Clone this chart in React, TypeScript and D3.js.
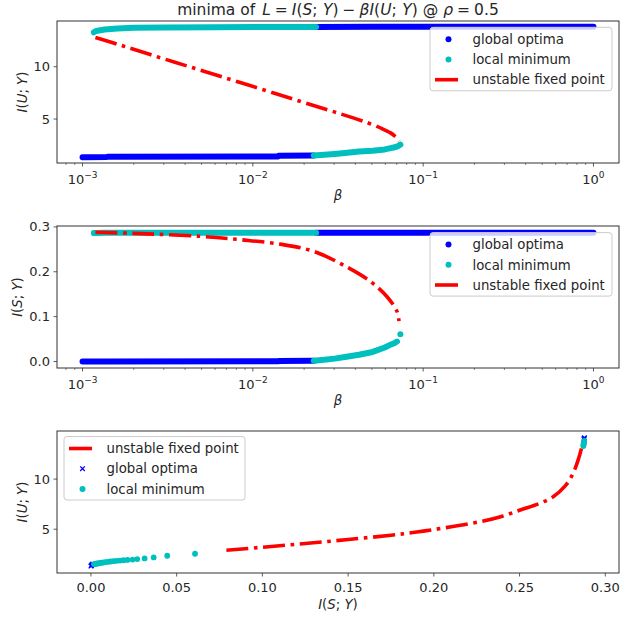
import * as d3 from 'd3';

const FONT = '"DejaVu Sans", sans-serif';
const BLUE = '#0000ff';
const CYAN = '#00bfbf';
const RED = '#ff0000';
const INK = '#262626';

// ---- panel 1 & 2 : beta sweep ----
const upperLocalBeta = [0.001165, 0.0012, 0.00135, 0.0016, 0.002, 0.003, 0.006, 0.012, 0.0235];
const upperLocalIU = [13.29, 13.42, 13.55, 13.65, 13.72, 13.76, 13.78, 13.79, 13.8];
const upperLocalIS = [0.2862, 0.2865, 0.2867, 0.2868, 0.2869, 0.287, 0.287, 0.287, 0.287];

const upperGlobalBeta = [0.0235, 0.05, 0.1, 0.3, 1.0];
const upperGlobalIU = [13.8, 13.81, 13.82, 13.82, 13.82];
const upperGlobalIS = [0.2872, 0.2872, 0.2872, 0.2872, 0.2872];

const lowerGlobalBeta = [0.001, 0.00139, 0.0014, 0.0141, 0.0142, 0.0228];
const lowerGlobalIU = [1.35, 1.37, 1.4, 1.42, 1.5, 1.52];
const lowerGlobalIS = [0.0, 0.0, 0.0, 0.0004, 0.0012, 0.0016];

const lowerLocalBeta = [0.0228, 0.0262, 0.0302, 0.0347, 0.042, 0.0505, 0.0595, 0.0635, 0.067, 0.0702];
const lowerLocalIU = [1.52, 1.58, 1.66, 1.75, 1.9, 1.98, 2.1, 2.2, 2.28, 2.37];
const lowerLocalIS = [0.0018, 0.0037, 0.0064, 0.01, 0.015, 0.0213, 0.0313, 0.0366, 0.04, 0.0445];
const tipBeta = [0.0735];
const tipIU = [2.55];
const tipIS = [0.0607];

// unstable fixed point, read separately per panel
const unstableBetaU = [0.00119, 0.0017, 0.0025, 0.004, 0.0065, 0.011, 0.018, 0.028, 0.038, 0.048, 0.057, 0.064, 0.0685, 0.0712, 0.0722];
const unstableIU = [12.8, 12.02, 11.16, 10.13, 9.06, 7.9, 6.81, 5.84, 5.16, 4.6, 4.1, 3.7, 3.35, 3.1, 2.9];
const unstableBetaS = [0.00119, 0.002, 0.00492, 0.00845, 0.0148, 0.0229, 0.0355, 0.0492, 0.0612, 0.0702, 0.0721];
const unstableIS = [0.288, 0.2855, 0.279, 0.2715, 0.261, 0.245, 0.211, 0.178, 0.1448, 0.1117, 0.09];

// ---- panel 3 : I(S;Y) vs I(U;Y) ----
const p3UnstableIS = [0.079, 0.1, 0.125, 0.15, 0.175, 0.19, 0.205, 0.227, 0.24, 0.2504, 0.262, 0.27, 0.2765, 0.2798, 0.2825, 0.2847, 0.2866, 0.2876];
const p3UnstableIU = [2.9, 3.2, 3.57, 3.97, 4.4, 4.72, 5.1, 5.75, 6.3, 6.92, 7.6, 8.28, 9.3, 10.1, 11.1, 12.2, 13.3, 13.6];
const p3GlobalIS = [0.0, 0.0003, 0.0006, 0.001, 0.2876, 0.2877, 0.2878];
const p3GlobalIU = [1.32, 1.38, 1.45, 1.52, 13.95, 14.05, 14.12];
const p3LocalIS = [0.0607, 0.0445, 0.0366, 0.0313, 0.027, 0.0243, 0.0213, 0.019, 0.017, 0.015, 0.0132, 0.0115, 0.01, 0.0087, 0.0075, 0.0064, 0.0054, 0.0045, 0.0037, 0.003, 0.0024, 0.0018,
  0.2872, 0.2873, 0.2874, 0.2875, 0.2876, 0.2877];
const p3LocalIU = [2.55, 2.35, 2.18, 2.08, 2.02, 1.97, 1.93, 1.9, 1.87, 1.84, 1.81, 1.78, 1.75, 1.72, 1.69, 1.66, 1.63, 1.6, 1.58, 1.56, 1.54, 1.52,
  13.3, 13.42, 13.52, 13.62, 13.72, 13.82];

const betaTicks = [-3, -2, -1, 0];
const iuTicks = [5, 10];
const isTicks = [0.0, 0.1, 0.2, 0.3];
const isTicks3 = [0.0, 0.05, 0.1, 0.15, 0.2, 0.25, 0.3];

const legendTop = ['global optima', 'local minimum', 'unstable fixed point'];
const legendBottom = ['unstable fixed point', 'global optima', 'local minimum'];

const L = 57, R = 619;
const zip = (a: number[], b: number[]) => a.map((v, i) => [v, b[i]] as [number, number]);
const DASH = '22,5.6,3.6,5.6';

function MathLabel({ parts, ...rest }: any) {
  return (
    <text {...rest}>
      {parts.map((p: any, i: number) => (
        <tspan key={i} fontStyle={p[1] ? 'italic' : 'normal'} dx={p[2] || 0}>{p[0]}</tspan>
      ))}
    </text>
  );
}

const IUY = [['I', 1], ['(', 0], ['U', 1], ['; ', 0], ['Y', 1], [')', 0]];
const ISY = [['I', 1], ['(', 0], ['S', 1], ['; ', 0], ['Y', 1], [')', 0]];

function Frame({ x, y, top, bottom, xTicks, yTicks, xLog, xFmt, yFmt }: any) {
  const minor: number[] = [];
  if (xLog) {
    const [d0, d1] = x.domain();
    for (let e = -4; e <= 1; e++) for (let k = 2; k <= 9; k++) {
      const v = k * Math.pow(10, e);
      if (v >= d0 && v <= d1) minor.push(v);
    }
  }
  return (
    <g>
      <rect x={L} y={top} width={R - L} height={bottom - top} fill="none" stroke="#333" strokeWidth={1} />
      {minor.map((v, i) => (
        <line key={'m' + i} x1={x(v)} x2={x(v)} y1={bottom} y2={bottom + 2} stroke="#333" strokeWidth={0.6} />
      ))}
      {xTicks.map((t: number, i: number) => {
        const px = xLog ? x(Math.pow(10, t)) : x(t);
        return (
          <g key={'x' + i}>
            <line x1={px} x2={px} y1={bottom} y2={bottom + 3.5} stroke="#333" strokeWidth={0.8} />
            {xLog ? (
              <text x={px} y={bottom + 20.5} textAnchor="middle" fontSize={13} fill={INK}>
                <tspan>10</tspan>
                <tspan dy={-6} fontSize={9}>{t < 0 ? '\u2212' + Math.abs(t) : String(t)}</tspan>
              </text>
            ) : (
              <text x={px} y={bottom + 18.5} textAnchor="middle" fontSize={13} fill={INK}>{xFmt(t)}</text>
            )}
          </g>
        );
      })}
      {yTicks.map((t: number, i: number) => (
        <g key={'y' + i}>
          <line x1={L - 3.5} x2={L} y1={y(t)} y2={y(t)} stroke="#333" strokeWidth={0.8} />
          <text x={L - 7} y={y(t) + 4.6} textAnchor="end" fontSize={13} fill={INK}>{yFmt(t)}</text>
        </g>
      ))}
    </g>
  );
}

function Band({ pts, color }: any) {
  const line = d3.line();
  return pts.length > 1 ? (
    <path d={line(pts) || ''} fill="none" stroke={color} strokeWidth={6} strokeLinecap="round" strokeLinejoin="round" />
  ) : (
    <circle cx={pts[0][0]} cy={pts[0][1]} r={3} fill={color} />
  );
}

function Dashed({ pts }: any) {
  const line = d3.line().curve(d3.curveCatmullRom.alpha(0.5));
  return <path d={line(pts) || ''} fill="none" stroke={RED} strokeWidth={3.6} strokeDasharray={DASH} />;
}

function XMark({ cx, cy }: any) {
  return <path d={`M${cx - 2.3},${cy - 2.3}L${cx + 2.3},${cy + 2.3}M${cx - 2.3},${cy + 2.3}L${cx + 2.3},${cy - 2.3}`} stroke={BLUE} strokeWidth={1.3} />;
}

function Legend({ x0, y0, w, labels, kinds }: any) {
  return (
    <g>
      <rect x={x0} y={y0} width={w} height={63.5} rx={3} fill="white" fillOpacity={0.8} stroke="#cccccc" strokeWidth={1} />
      {labels.map((lab: string, i: number) => {
        const cy = y0 + 12 + i * 20.2;
        const k = kinds[i];
        return (
          <g key={i}>
            {k === 'line' && <line x1={x0 + 5} x2={x0 + 28} y1={cy} y2={cy} stroke={RED} strokeWidth={3.6} />}
            {k === 'blue' && <circle cx={x0 + 18.5} cy={cy} r={3} fill={BLUE} />}
            {k === 'cyan' && <circle cx={x0 + 18.5} cy={cy} r={3} fill={CYAN} />}
            {k === 'x' && <XMark cx={x0 + 18.5} cy={cy} />}
            <text x={x0 + 42.5} y={cy + 4.7} fontSize={13.3} fill={INK}>{lab}</text>
          </g>
        );
      })}
    </g>
  );
}

export default function App() {
  const xb = d3.scaleLog().domain([Math.pow(10, -3.15), Math.pow(10, 0.15)]).range([L, R]);
  const y1 = d3.scaleLinear().domain([0.8, 14.37]).range([163, 21]);
  const y2 = d3.scaleLinear().domain([-0.0145, 0.302]).range([368, 226]);
  const x3 = d3.scaleLinear().domain([-0.0198, 0.308]).range([L, R]);
  const y3 = d3.scaleLinear().domain([0.63, 14.8]).range([573, 431]);

  const P = (bx: number[], by: number[], sx: any, sy: any) => zip(bx, by).map(([a, b]) => [sx(a), sy(b)] as [number, number]);

  return (
    <svg width={630} height={620} viewBox="0 0 630 620" fontFamily={FONT} style={{ position: 'absolute', left: 0, top: 0 }}>
      <rect width={630} height={620} fill="white" />
      <MathLabel x={338} y={14.5} textAnchor="middle" fontSize={15.5} fill={INK}
        parts={[['minima of', 0], ['L', 1, 7], ['=', 0, 4], ['I', 1, 4], ['(', 0], ['S', 1], [';', 0], ['Y', 1, 5.5], [')', 0], ['\u2212', 0, 4], ['\u03b2I', 1, 4], ['(', 0], ['U', 1], [';', 0], ['Y', 1, 5.5], [')', 0], ['@', 0, 5], ['\u03c1', 1, 5], ['=', 0, 4], ['0.5', 0, 4]]} />

      {/* panel 1 */}
      <Frame x={xb} y={y1} top={21} bottom={163} xTicks={betaTicks} yTicks={iuTicks} xLog yFmt={(t: number) => String(t)} />
      <Band pts={P(lowerGlobalBeta, lowerGlobalIU, xb, y1)} color={BLUE} />
      <Band pts={P(upperGlobalBeta, upperGlobalIU, xb, y1)} color={BLUE} />
      <Band pts={P(lowerLocalBeta.concat(tipBeta), lowerLocalIU.concat(tipIU), xb, y1)} color={CYAN} />
      <Band pts={P(upperLocalBeta, upperLocalIU, xb, y1)} color={CYAN} />
      <Dashed pts={P(unstableBetaU, unstableIU, xb, y1)} />
      <Legend x0={430} y0={27.3} w={182} labels={legendTop} kinds={['blue', 'cyan', 'line']} />
      <MathLabel x={338} y={200} textAnchor="middle" fontSize={13.3} fill={INK} parts={[['\u03b2', 1]]} />
      <MathLabel transform="translate(27,92) rotate(-90)" textAnchor="middle" fontSize={13.3} fill={INK} parts={IUY} />

      {/* panel 2 */}
      <Frame x={xb} y={y2} top={226} bottom={368} xTicks={betaTicks} yTicks={isTicks} xLog yFmt={(t: number) => t.toFixed(1)} />
      <Band pts={P(lowerGlobalBeta, lowerGlobalIS, xb, y2)} color={BLUE} />
      <Band pts={P(upperGlobalBeta, upperGlobalIS, xb, y2)} color={BLUE} />
      <Band pts={P(lowerLocalBeta, lowerLocalIS, xb, y2)} color={CYAN} />
      <Band pts={P(tipBeta, tipIS, xb, y2)} color={CYAN} />
      <Band pts={P(upperLocalBeta, upperLocalIS, xb, y2)} color={CYAN} />
      <Dashed pts={P(unstableBetaS, unstableIS, xb, y2)} />
      <Legend x0={430} y0={232.6} w={182} labels={legendTop} kinds={['blue', 'cyan', 'line']} />
      <MathLabel x={338} y={405} textAnchor="middle" fontSize={13.3} fill={INK} parts={[['\u03b2', 1]]} />
      <MathLabel transform="translate(21.5,297) rotate(-90)" textAnchor="middle" fontSize={13.3} fill={INK} parts={ISY} />

      {/* panel 3 */}
      <Frame x={x3} y={y3} top={431} bottom={573} xTicks={isTicks3} yTicks={iuTicks} xFmt={(t: number) => t.toFixed(2)} yFmt={(t: number) => String(t)} />
      <Dashed pts={P(p3UnstableIS, p3UnstableIU, x3, y3)} />
      {P(p3GlobalIS, p3GlobalIU, x3, y3).map(([cx, cy], i) => <XMark key={i} cx={cx} cy={cy} />)}
      {P(p3LocalIS, p3LocalIU, x3, y3).map(([cx, cy], i) => <circle key={i} cx={cx} cy={cy} r={2.9} fill={CYAN} />)}
      <Legend x0={64} y0={436.5} w={181} labels={legendBottom} kinds={['line', 'x', 'cyan']} />
      <MathLabel x={338} y={609} textAnchor="middle" fontSize={13.3} fill={INK} parts={ISY} />
      <MathLabel transform="translate(27,502) rotate(-90)" textAnchor="middle" fontSize={13.3} fill={INK} parts={IUY} />
    </svg>
  );
}
